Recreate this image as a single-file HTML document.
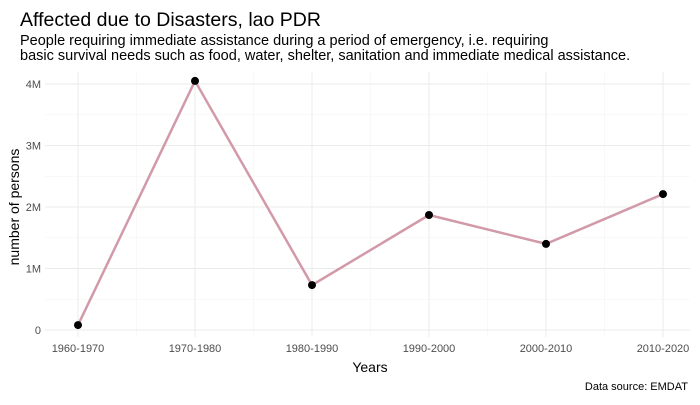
<!DOCTYPE html>
<html><head><meta charset="utf-8"><style>
body{margin:0;background:#fff;font-family:"Liberation Sans",sans-serif}
text{font-family:"Liberation Sans",sans-serif}
</style></head><body>
<svg id="chart" width="700" height="400" xmlns="http://www.w3.org/2000/svg">
<rect width="700" height="400" fill="#fff"/>
<text x="20" y="26" font-size="19.5" fill="#000">Affected due to Disasters, lao PDR</text>
<text x="20" y="45" font-size="14.5" fill="#000">People requiring immediate assistance during a period of emergency, i.e. requiring</text>
<text x="20" y="60" font-size="14.5" fill="#000">basic survival needs such as food, water, shelter, sanitation and immediate medical assistance.</text>
<g id="grid"></g>
<g id="marks"></g>
<g id="axes"></g>
<text x="370" y="372" font-size="14" text-anchor="middle">Years</text>
<text transform="translate(19,207) rotate(-90)" font-size="14" text-anchor="middle">number of persons</text>
<text x="688" y="390" font-size="11" text-anchor="end">Data source: EMDAT</text>
</svg>
<script>
const categories=["1960-1970","1970-1980","1980-1990","1990-2000","2000-2010","2010-2020"];
const values=[80000,4050000,730000,1870000,1400000,2210000];
const yTicks=[0,1000000,2000000,3000000,4000000];
const yTickLabels=["0","1M","2M","3M","4M"];
const NS="http://www.w3.org/2000/svg";
const x0=78,dx=117,plotLeft=45,plotRight=690,plotTop=72,plotBottom=337;
const xs=i=>x0+i*dx;
const ys=v=>330-v*61.5/1e6;
function el(t,a,p){const e=document.createElementNS(NS,t);for(const k in a)e.setAttribute(k,a[k]);document.getElementById(p).appendChild(e);return e;}
for(let i=0;i<yTicks.length;i++){
 const l=el('line',{x1:plotLeft,x2:plotRight,y1:ys(yTicks[i]),y2:ys(yTicks[i]),stroke:'#ebebeb','stroke-width':1},'grid');
 
 
 if(i<yTicks.length-1){const m=el('line',{x1:plotLeft,x2:plotRight,y1:ys((yTicks[i]+yTicks[i+1])/2),y2:ys((yTicks[i]+yTicks[i+1])/2),stroke:'#f3f3f3','stroke-width':0.6},'grid');
 
 }
 const t=el('text',{x:plotLeft-4,y:ys(yTicks[i])+4,'font-size':11,fill:'#4d4d4d','text-anchor':'end'},'axes');
 t.textContent=yTickLabels[i];
 
 
}
for(let i=0;i<categories.length;i++){
 const l=el('line',{x1:xs(i),x2:xs(i),y1:plotTop,y2:plotBottom,stroke:'#ebebeb','stroke-width':1},'grid');
 
 
 if(i<categories.length-1){const m=el('line',{x1:xs(i+0.5),x2:xs(i+0.5),y1:plotTop,y2:plotBottom,stroke:'#f3f3f3','stroke-width':0.6},'grid');
 
 }
 const t=el('text',{x:xs(i),y:352,'font-size':11,fill:'#4d4d4d','text-anchor':'middle'},'axes');
 t.textContent=categories[i];
 
 
}
const line=el('polyline',{points:values.map((v,i)=>xs(i)+','+ys(v)).join(' '),fill:'none',stroke:'#d29aa8','stroke-width':2.5},'marks');


values.forEach((v,i)=>{
 const c=el('circle',{cx:xs(i),cy:ys(v),r:4,fill:'#000'},'marks');
 
 
});
</script>
</body></html>
